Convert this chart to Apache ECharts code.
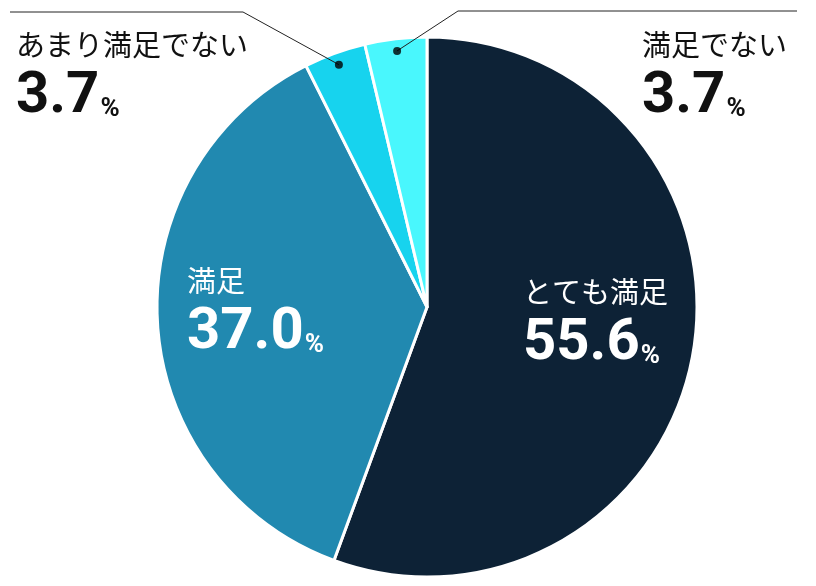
<!DOCTYPE html>
<html>
<head>
<meta charset="utf-8">
<script src="https://cdn.jsdelivr.net/npm/echarts@6/dist/echarts.min.js"></script>
<style>
  html, body { margin: 0; padding: 0; background: #fff; }
  #main { width: 816px; height: 586px; }
</style>
</head>
<body>
<div id="main"></div>
<script>
// 満足度の内訳
var categories = ['とても満足', '満足', 'あまり満足でない', '満足でない'];
var shares = [55.6, 37.0, 3.7, 3.7];
var colors = ['#0d2236', '#2189b0', '#17d3ee', '#49f7fd'];

// ラベル位置（左上）
var labelPos = [[523, 272], [187, 261], [16, 25], [642, 25]];
// 引き出し線の折れ点と終点
var linePos = [null, null, [[243, 12], [10, 12]], [[458, 11], [797, 11]]];

var cx = 427, cy = 307, R = 270;
var numFont = 'Roboto, "Liberation Sans", sans-serif';
var jpFont = '"Noto Sans CJK JP", sans-serif';

var chart = echarts.init(document.getElementById('main'), null, { renderer: 'canvas' });

// 各スライス中央の角度（%）
function midOf(i) {
    var sum = 0;
    for (var k = 0; k < i; k++) sum += shares[k];
    return sum + shares[i] / 2;
}

var dotData = [];
for (var i = 0; i < shares.length; i++) {
    if (linePos[i]) dotData.push([0.955, midOf(i)]);
}

function richStyle(color) {
    return {
        name: { fontFamily: jpFont, fontSize: 29, lineHeight: 40, color: color },
        num: { fontFamily: numFont, fontWeight: 'bold', fontSize: 58, lineHeight: 64, color: color },
        pct: { fontFamily: numFont, fontWeight: 'bold', fontSize: 26, lineHeight: 50, verticalAlign: 'bottom', color: color, padding: [0, 0, 7, 1] }
    };
}

// 扇形（下層）
var sliceData = categories.map(function (name, i) {
    return { name: name, value: shares[i], itemStyle: { color: colors[i] } };
});

// ラベルと引き出し線（上層）
var labelData = categories.map(function (name, i) {
    var inside = !linePos[i];
    var c = inside ? '#fff' : '#111';
    return {
        name: name,
        value: shares[i],
        label: { color: c, rich: richStyle(c) },
        labelLine: { show: !inside }
    };
});

function labelText(p) {
    return '{name|' + p.name + '}\n{num|' + p.value.toFixed(1) + '}{pct|%}';
}

var option = {
    animation: false,
    polar: { center: [cx, cy], radius: R },
    angleAxis: { type: 'value', min: 0, max: 100, startAngle: 90, clockwise: true, show: false },
    radiusAxis: { type: 'value', min: 0, max: 1, show: false },
    series: [{
        type: 'pie',
        center: [cx, cy],
        radius: [0, R],
        startAngle: 90,
        clockwise: true,
        itemStyle: { borderColor: '#fff', borderWidth: 3 },
        label: { show: false },
        labelLine: { show: false },
        emphasis: { disabled: true },
        silent: true,
        data: sliceData,
        z: 1
    }, {
        type: 'pie',
        center: [cx, cy],
        radius: [0, R],
        startAngle: 90,
        clockwise: true,
        avoidLabelOverlap: false,
        itemStyle: { color: 'rgba(0,0,0,0)', borderWidth: 0 },
        label: {
            show: true,
            position: 'outside',
            formatter: labelText,
            align: 'left'
        },
        labelLine: { lineStyle: { color: '#222', width: 1 }, minTurnAngle: 0 },
        emphasis: { disabled: true },
        silent: true,
        labelLayout: function (params) {
            var i = params.dataIndex;
            var res = {
                x: labelPos[i][0],
                y: labelPos[i][1],
                align: 'left',
                verticalAlign: 'top'
            };
            if (linePos[i]) {
                var a = (90 - midOf(i) * 3.6) * Math.PI / 180;
                var start = [cx + Math.cos(a) * R * 0.955, cy - Math.sin(a) * R * 0.955];
                res.labelLinePoints = [start, linePos[i][0], linePos[i][1]];
            }
            return res;
        },
        data: labelData,
        z: 3
    }, {
        type: 'scatter',
        coordinateSystem: 'polar',
        symbol: 'circle',
        symbolSize: 8,
        itemStyle: { color: '#000' },
        silent: true,
        data: dotData,
        z: 5
    }]
};
chart.setOption(option);
</script>
</body>
</html>
